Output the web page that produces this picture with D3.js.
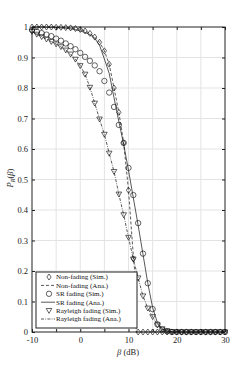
<!DOCTYPE html>
<html><head><meta charset="utf-8">
<script src="https://cdn.jsdelivr.net/npm/d3@7"></script>
<style>
html,body{margin:0;padding:0;background:#fff;}
svg{display:block;font-family:"Liberation Serif","DejaVu Serif",serif;}
</style></head>
<body><svg id="c" width="249" height="374"></svg>
<script>
// ---- data ----
const beta = d3.range(-10, 31, 1);
const nonFadingSim = [1.0,1.0,1.0,1.0,1.0,0.999,0.999,0.998,0.997,0.995,0.992,0.987,0.979,0.967,0.95,0.922,0.878,0.80,0.72,0.62,0.465,0.24,0,0,0,0,0,0,0,0,0,0,0,0,0,0,0,0,0,0,0];
const nfAnaBeta = [-10,-8,-6,-4,-2,-1,0,1,2,3,4,5,6,7,8,9,10,11,11.6,11.6,30];
const nfAnaVal  = [1.0,1.0,1.0,0.999,0.997,0.995,0.992,0.987,0.979,0.967,0.95,0.922,0.878,0.80,0.72,0.62,0.465,0.25,0.14,0,0];
const srSim = [0.99,0.985,0.98,0.975,0.97,0.962,0.955,0.946,0.937,0.927,0.915,0.902,0.889,0.874,0.855,0.823,0.785,0.738,0.679,0.62,0.538,0.449,0.357,0.257,0.16,0.075,0.025,0.008,0.002,0,0,0,0,0,0,0,0,0,0,0,0];
const srAna  = [1.0,1.0,1.0,0.999,0.999,0.998,0.997,0.996,0.994,0.991,0.987,0.982,0.975,0.963,0.94,0.895,0.848,0.768,0.69,0.615,0.53,0.44,0.35,0.255,0.16,0.08,0.03,0.01,0.003,0,0,0,0,0,0,0,0,0,0,0,0];
const rayleigh = [0.985,0.976,0.968,0.96,0.952,0.944,0.935,0.924,0.911,0.894,0.873,0.845,0.802,0.75,0.698,0.648,0.586,0.526,0.452,0.384,0.31,0.239,0.177,0.118,0.078,0.05,0.023,0.01,0.004,0.001,0,0,0,0,0,0,0,0,0,0,0];
const xTicks = [-10,0,10,20,30];
const yTicks = [0,0.1,0.2,0.3,0.4,0.5,0.6,0.7,0.8,0.9,1];
const legendLabels = ["Non-fading (Sim.)","Non-fading (Ana.)","SR fading (Sim.)","SR fading (Ana.)","Rayleigh fading (Sim.)","Rayleigh fading (Ana.)"];

// ---- layout ----
const L=32, R=225, T=27, B=332;
const svg = d3.select("#c");
const x = d3.scaleLinear().domain([-10,30]).range([L,R]);
const y = d3.scaleLinear().domain([0,1]).range([B,T]);

// grid
const g = svg.append("g");
g.selectAll(".gx").data(d3.range(-5,30,5)).enter().append("line")
 .attr("x1",d=>x(d)).attr("x2",d=>x(d)).attr("y1",T).attr("y2",B)
 .attr("stroke","#e3e3e3").attr("stroke-width",1);
g.selectAll(".gy").data(d3.range(1,10).map(d=>d/10)).enter().append("line")
 .attr("y1",d=>y(d)).attr("y2",d=>y(d)).attr("x1",L).attr("x2",R)
 .attr("stroke","#e3e3e3").attr("stroke-width",1);

// axes
const fs = 8.5;
const ax = svg.append("g").attr("transform",`translate(0,${B})`)
 .call(d3.axisBottom(x).tickValues(d3.range(-10,31,5)).tickSizeInner(-3).tickSizeOuter(0)
   .tickFormat(d=>xTicks.includes(d)?d:""));
const ay = svg.append("g").attr("transform",`translate(${L},0)`)
 .call(d3.axisLeft(y).tickValues(yTicks).tickSizeInner(-3).tickSizeOuter(0).tickFormat(d=>d));
const axT = svg.append("g").attr("transform",`translate(0,${T})`)
 .call(d3.axisTop(x).tickValues(d3.range(-10,31,5)).tickSizeInner(-3).tickSizeOuter(0).tickFormat(""));
const ayR = svg.append("g").attr("transform",`translate(${R},0)`)
 .call(d3.axisRight(y).tickValues(yTicks).tickSizeInner(-3).tickSizeOuter(0).tickFormat(""));
[ax,ay,axT,ayR].forEach(a=>{
  a.select(".domain").remove();
  a.selectAll("line").attr("stroke","#222").attr("stroke-width",1);
  a.selectAll("text").attr("font-family","Liberation Serif, DejaVu Serif, serif").attr("font-size",fs).attr("fill","#222");
});
ax.selectAll("text").attr("dy","0.55em").attr("y",6);
ay.selectAll("text").attr("x",-4);
svg.append("rect").attr("x",L).attr("y",T).attr("width",R-L).attr("height",B-T)
 .attr("fill","none").attr("stroke","#222").attr("stroke-width",1);

// lines
const line = d3.line().x(d=>x(d[0])).y(d=>y(d[1]));
const plot = svg.append("g");
plot.append("path").datum(nfAnaBeta.map((b,i)=>[b,nfAnaVal[i]])).attr("d",line)
 .attr("fill","none").attr("stroke","#111").attr("stroke-width",0.7).attr("stroke-dasharray","3,2");
plot.append("path").datum(beta.map((b,i)=>[b,srAna[i]])).attr("d",line)
 .attr("fill","none").attr("stroke","#111").attr("stroke-width",0.7);
plot.append("path").datum(beta.map((b,i)=>[b,rayleigh[i]])).attr("d",line)
 .attr("fill","none").attr("stroke","#111").attr("stroke-width",0.7).attr("stroke-dasharray","3,1.3,0.8,1.3");

// markers
const diamond = (cx,cy,s)=>`M${cx},${cy-s}L${cx+s*0.72},${cy}L${cx},${cy+s}L${cx-s*0.72},${cy}Z`;
const tri = (cx,cy,s)=>`M${cx-s},${cy-s*0.75}L${cx+s},${cy-s*0.75}L${cx},${cy+s*1.0}Z`;
plot.selectAll(".dm").data(beta.map((b,i)=>[b,nonFadingSim[i]])).enter().append("path")
 .attr("d",d=>diamond(x(d[0]),y(d[1]),3.0)).attr("fill","none").attr("stroke","#111").attr("stroke-width",0.65);
plot.selectAll(".cm").data(beta.map((b,i)=>[b,srSim[i]])).enter().append("circle")
 .attr("cx",d=>x(d[0])).attr("cy",d=>y(d[1])).attr("r",2.7).attr("fill","none").attr("stroke","#111").attr("stroke-width",0.65);
plot.selectAll(".tm").data(beta.map((b,i)=>[b,rayleigh[i]])).enter().append("path")
 .attr("d",d=>tri(x(d[0]),y(d[1]),2.8)).attr("fill","none").attr("stroke","#111").attr("stroke-width",0.65);

// legend
const lg = svg.append("g");
lg.append("rect").attr("x",36).attr("y",272).attr("width",101).attr("height",56)
 .attr("fill","#fff").attr("stroke","#222").attr("stroke-width",1);
const rowY = i=>277+i*8.4;
legendLabels.forEach((t,i)=>{
  lg.append("text").attr("x",56).attr("y",rowY(i)).attr("dy","0.33em")
    .attr("font-size",7).attr("fill","#111").text(t);
});
lg.append("path").attr("d",diamond(49,rowY(0),3.0)).attr("fill","none").attr("stroke","#111").attr("stroke-width",0.65);
lg.append("line").attr("x1",41).attr("x2",55).attr("y1",rowY(1)).attr("y2",rowY(1)).attr("stroke","#111").attr("stroke-width",0.7).attr("stroke-dasharray","3,2");
lg.append("circle").attr("cx",49).attr("cy",rowY(2)).attr("r",2.7).attr("fill","none").attr("stroke","#111").attr("stroke-width",0.65);
lg.append("line").attr("x1",41).attr("x2",55).attr("y1",rowY(3)).attr("y2",rowY(3)).attr("stroke","#111").attr("stroke-width",0.7);
lg.append("path").attr("d",tri(49,rowY(4),2.8)).attr("fill","none").attr("stroke","#111").attr("stroke-width",0.65);
lg.append("line").attr("x1",41).attr("x2",55).attr("y1",rowY(5)).attr("y2",rowY(5)).attr("stroke","#111").attr("stroke-width",0.7).attr("stroke-dasharray","3,1.3,0.8,1.3");

// axis labels
svg.append("text").attr("x",128).attr("y",355).attr("text-anchor","middle").attr("font-size",8.5).attr("fill","#222")
 .html('<tspan font-style="italic">β</tspan> (dB)');
svg.append("text").attr("transform","translate(13,178) rotate(-90)").attr("text-anchor","middle").attr("font-size",8.5).attr("fill","#222")
 .html('<tspan font-style="italic">P</tspan><tspan font-style="italic" font-size="6" dy="1.5">R</tspan><tspan dy="-1.5">(</tspan><tspan font-style="italic">β</tspan>)');
</script></body></html>
